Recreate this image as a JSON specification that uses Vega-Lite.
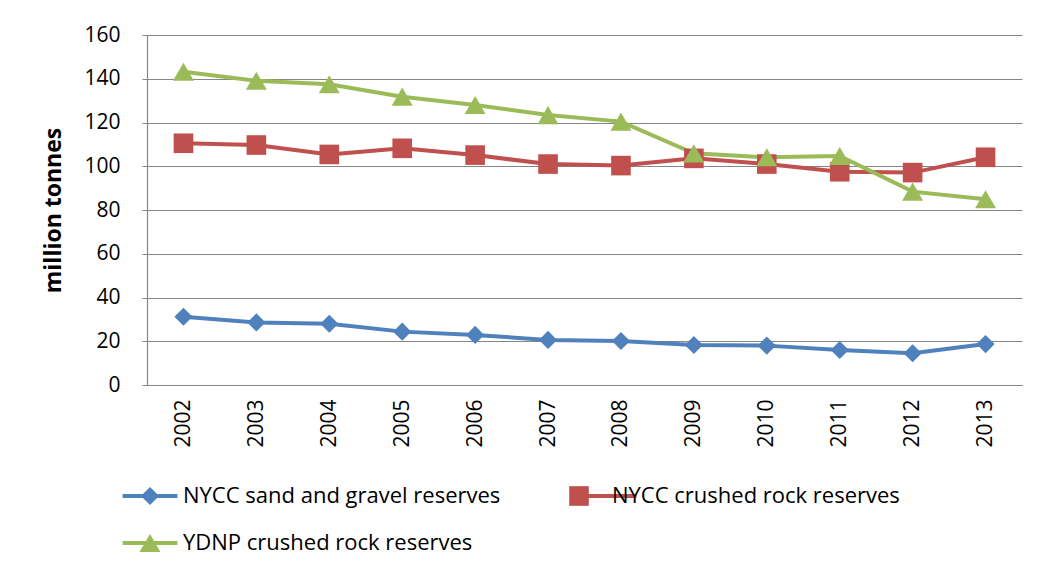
{
  "$schema": "https://vega.github.io/schema/vega-lite/v6.json",
  "width": 875,
  "height": 350,
  "autosize": "none",
  "padding": {"left": 147, "top": 35, "right": 16, "bottom": 196},
  "background": "white",
  "config": {
    "font": "Open Sans",
    "view": {"stroke": null},
    "axis": {"labelFont": "Open Sans", "titleFont": "Open Sans", "labelColor": "#000", "titleColor": "#000"},
    "legend": {"labelFont": "Open Sans", "labelColor": "#000"}
  },
  "data": {
    "values": [
      {"year": "2002", "series": "NYCC sand and gravel reserves", "value": 31.2},
      {"year": "2003", "series": "NYCC sand and gravel reserves", "value": 28.6},
      {"year": "2004", "series": "NYCC sand and gravel reserves", "value": 28.0},
      {"year": "2005", "series": "NYCC sand and gravel reserves", "value": 24.4},
      {"year": "2006", "series": "NYCC sand and gravel reserves", "value": 22.9},
      {"year": "2007", "series": "NYCC sand and gravel reserves", "value": 20.6},
      {"year": "2008", "series": "NYCC sand and gravel reserves", "value": 20.1},
      {"year": "2009", "series": "NYCC sand and gravel reserves", "value": 18.3},
      {"year": "2010", "series": "NYCC sand and gravel reserves", "value": 18.0},
      {"year": "2011", "series": "NYCC sand and gravel reserves", "value": 16.0},
      {"year": "2012", "series": "NYCC sand and gravel reserves", "value": 14.5},
      {"year": "2013", "series": "NYCC sand and gravel reserves", "value": 18.7},
      {"year": "2002", "series": "NYCC crushed rock reserves", "value": 110.5},
      {"year": "2003", "series": "NYCC crushed rock reserves", "value": 109.7},
      {"year": "2004", "series": "NYCC crushed rock reserves", "value": 105.4},
      {"year": "2005", "series": "NYCC crushed rock reserves", "value": 108.2},
      {"year": "2006", "series": "NYCC crushed rock reserves", "value": 105.1},
      {"year": "2007", "series": "NYCC crushed rock reserves", "value": 101.0},
      {"year": "2008", "series": "NYCC crushed rock reserves", "value": 100.3},
      {"year": "2009", "series": "NYCC crushed rock reserves", "value": 103.6},
      {"year": "2010", "series": "NYCC crushed rock reserves", "value": 101.0},
      {"year": "2011", "series": "NYCC crushed rock reserves", "value": 97.5},
      {"year": "2012", "series": "NYCC crushed rock reserves", "value": 97.1},
      {"year": "2013", "series": "NYCC crushed rock reserves", "value": 104.1},
      {"year": "2002", "series": "YDNP crushed rock reserves", "value": 143.2},
      {"year": "2003", "series": "YDNP crushed rock reserves", "value": 139.1},
      {"year": "2004", "series": "YDNP crushed rock reserves", "value": 137.5},
      {"year": "2005", "series": "YDNP crushed rock reserves", "value": 131.8},
      {"year": "2006", "series": "YDNP crushed rock reserves", "value": 128.0},
      {"year": "2007", "series": "YDNP crushed rock reserves", "value": 123.4},
      {"year": "2008", "series": "YDNP crushed rock reserves", "value": 120.4},
      {"year": "2009", "series": "YDNP crushed rock reserves", "value": 105.9},
      {"year": "2010", "series": "YDNP crushed rock reserves", "value": 104.1},
      {"year": "2011", "series": "YDNP crushed rock reserves", "value": 104.7},
      {"year": "2012", "series": "YDNP crushed rock reserves", "value": 88.4},
      {"year": "2013", "series": "YDNP crushed rock reserves", "value": 84.9}
    ]
  },
  "encoding": {
    "x": {
      "field": "year", "type": "ordinal",
      "scale": {"type": "point", "padding": 0.5},
      "axis": {
        "title": null, "labelAngle": -90, "labelFontSize": 21, "labelPadding": 14,
        "domainColor": "#868686", "domainWidth": 1.2, "tickColor": "#868686", "ticks": false, "grid": false
      }
    },
    "y": {
      "field": "value", "type": "quantitative",
      "scale": {"domain": [0, 160], "nice": false},
      "axis": {
        "title": "million tonnes", "titleFontSize": 23, "titleFontWeight": "bold", "titlePadding": 18,
        "values": [0, 20, 40, 60, 80, 100, 120, 140, 160],
        "labelFontSize": 21, "labelPadding": 22,
        "domainColor": "#868686", "domainWidth": 1.2, "tickColor": "#868686", "tickSize": 5,
        "grid": true, "gridColor": "#868686", "gridWidth": 1.2
      }
    }
  },
  "layer": [
    {
      "mark": {"type": "line", "strokeWidth": 4},
      "encoding": {
        "color": {
          "field": "series", "type": "nominal",
          "scale": {
            "domain": ["NYCC sand and gravel reserves", "NYCC crushed rock reserves", "YDNP crushed rock reserves"],
            "range": ["#4F81BD", "#C0504D", "#9BBB59"]
          },
          "legend": {
            "title": null, "orient": "none", "legendX": -8, "legendY": 450, "columns": 2, "direction": "horizontal",
            "labelFontSize": 22, "labelExpr": "''", "symbolType": "M-3.4,0H3.4", "symbolSize": 260, "symbolStrokeWidth": 4,
            "symbolOffset": 0, "columnPadding": 387, "rowPadding": 25, "labelOffset": 22
          }
        }
      }
    },
    {
      "mark": {"type": "point", "filled": true, "opacity": 1},
      "encoding": {
        "color": {
          "field": "series", "type": "nominal",
          "scale": {
            "domain": ["NYCC sand and gravel reserves", "NYCC crushed rock reserves", "YDNP crushed rock reserves"],
            "range": ["#4F81BD", "#C0504D", "#9BBB59"]
          },
          "legend": {
            "title": null, "orient": "none", "legendX": -8, "legendY": 450, "columns": 2, "direction": "horizontal",
            "labelFontSize": 22, "labelLimit": 600, "symbolSize": 260, "symbolStrokeWidth": 0, "symbolOpacity": 1,
            "symbolOffset": 0, "columnPadding": 67, "rowPadding": 25, "labelOffset": 22
          }
        },
        "shape": {
          "field": "series", "type": "nominal",
          "scale": {
            "domain": ["NYCC sand and gravel reserves", "NYCC crushed rock reserves", "YDNP crushed rock reserves"],
            "range": ["diamond", "square", "triangle-up"]
          },
          "legend": {
            "title": null, "orient": "none", "legendX": -8, "legendY": 450, "columns": 2, "direction": "horizontal",
            "labelFontSize": 22, "labelLimit": 600, "symbolSize": 260, "symbolStrokeWidth": 0, "symbolOpacity": 1,
            "symbolOffset": 0, "columnPadding": 67, "rowPadding": 25, "labelOffset": 22
          }
        },
        "size": {
          "field": "series", "type": "nominal",
          "scale": {
            "domain": ["NYCC sand and gravel reserves", "NYCC crushed rock reserves", "YDNP crushed rock reserves"],
            "range": [330, 440, 420]
          },
          "legend": null
        }
      }
    }
  ],
  "resolve": {
    "scale": {"color": "independent", "shape": "independent", "size": "independent"},
    "legend": {"color": "independent", "shape": "independent"}
  }
}
